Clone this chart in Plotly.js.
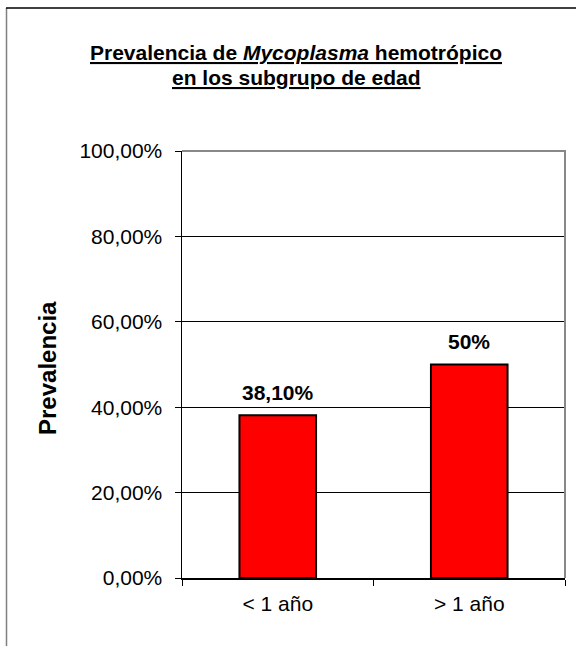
<!DOCTYPE html>
<html>
<head>
<meta charset="utf-8">
<script src="https://cdn.plot.ly/plotly-3.0.1.min.js"></script>
<style>
  html, body { margin: 0; padding: 0; background: #fff; }
  #chart { width: 576px; height: 646px; }
</style>
</head>
<body>
<div id="chart"></div>
<script>
const categories = ['< 1 año', '> 1 año'];
const values = [38.1, 50];
const valueLabels = ['38,10%', '50%'];
const yTickVals = [0, 20, 40, 60, 80, 100];
const yTickText = ['0,00%', '20,00%', '40,00%', '60,00%', '80,00%', '100,00%'];
const titleLines = ['Prevalencia de <i>Mycoplasma</i> hemotrópico', 'en los subgrupo de edad'];

const W = 576, H = 646;
const M = { l: 182, r: 11, t: 151, b: 68 };
const PW = W - M.l - M.r, PH = H - M.t - M.b;
const px2x = (px) => (px - M.l) / PW;
const px2y = (py) => (H - M.b - py) / PH;

const FONT = 'Liberation Sans, Arial, sans-serif';

const trace = {
  type: 'bar',
  x: categories,
  y: values,
  marker: { color: '#FF0000', line: { color: '#000000', width: 2 } },
  hoverinfo: 'skip'
};

const annotations = categories.map((c, i) => ({
  x: c, y: values[i], xref: 'x', yref: 'y',
  text: '<b>' + valueLabels[i] + '</b>',
  showarrow: false, yanchor: 'middle', yshift: 23,
  font: { family: FONT, size: 21, color: '#000' }
}));
annotations.push({
  x: px2x(47), y: px2y(368), xref: 'paper', yref: 'paper',
  text: '<b>Prevalencia</b>', textangle: -90, showarrow: false,
  xanchor: 'center', yanchor: 'middle',
  font: { family: FONT, size: 24, color: '#000' }
});
const titleY = [53, 77];
titleLines.forEach((t, i) => {
  annotations.push({
    x: px2x(296), y: px2y(titleY[i]), xref: 'paper', yref: 'paper',
    text: '<b><u>' + t + '</u></b>', showarrow: false,
    xanchor: 'center', yanchor: 'middle',
    font: { family: FONT, size: 21, color: '#000' }
  });
});

const shapes = [
  { type: 'line', xref: 'paper', yref: 'paper', x0: px2x(6.5), x1: px2x(6.5), y0: px2y(8), y1: px2y(700), line: { color: '#808080', width: 1.5 } },
  { type: 'line', xref: 'paper', yref: 'paper', x0: px2x(6), x1: px2x(600), y0: px2y(8), y1: px2y(8), line: { color: '#000000', width: 1.5 } },
  { type: 'path', xref: 'paper', yref: 'paper', path: 'M 0,1 L 1,1 L 1,0', line: { color: '#888888', width: 2 }, layer: 'above' }
];

const layout = {
  width: W, height: H,
  margin: M,
  paper_bgcolor: '#ffffff',
  plot_bgcolor: '#ffffff',
  showlegend: false,
  bargap: 0.6,
  font: { family: FONT, color: '#000' },
  xaxis: {
    type: 'category',
    range: [-0.5, 1.5],
    tickson: 'boundaries',
    ticks: 'outside', ticklen: 6, tickcolor: '#000', tickwidth: 1,
    showline: true, linecolor: '#000', linewidth: 1.5,
    showgrid: false, zeroline: false,
    tickfont: { family: FONT, size: 21, color: '#000' },
    ticklabelstandoff: 6,
    fixedrange: true
  },
  yaxis: {
    range: [0, 100],
    tickvals: yTickVals, ticktext: yTickText,
    ticks: 'outside', ticklen: 6, tickcolor: '#000', tickwidth: 1,
    showline: true, linecolor: '#000', linewidth: 1.5,
    showgrid: true, gridcolor: '#000', gridwidth: 1,
    zeroline: false,
    tickfont: { family: FONT, size: 21, color: '#000' },
    ticklabelstandoff: 8,
    fixedrange: true
  },
  annotations: annotations,
  shapes: shapes
};

Plotly.newPlot('chart', [trace], layout, { displayModeBar: false, staticPlot: true });
</script>
</body>
</html>
